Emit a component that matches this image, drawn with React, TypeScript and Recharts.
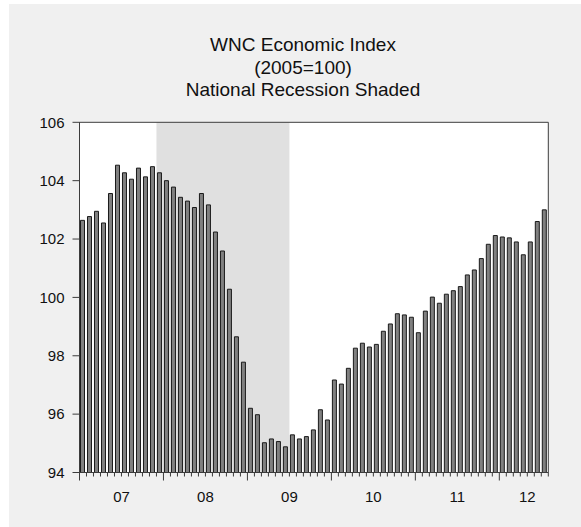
import React from 'react';
import { BarChart, Bar, XAxis, YAxis, CartesianGrid, ReferenceArea } from 'recharts';

const years = [2007, 2008, 2009, 2010, 2011, 2012];
const monthsInLastYear = 7;
const months: string[] = [];
years.forEach((y, yi) => {
  const n = yi === years.length - 1 ? monthsInLastYear : 12;
  for (let m = 1; m <= n; m++) months.push(`${y}-${String(m).padStart(2, '0')}`);
});

const wncIndex = [
  102.64, 102.77, 102.95, 102.55, 103.56, 104.53, 104.27, 104.05, 104.43, 104.13, 104.48, 104.27,
  104.0, 103.78, 103.43, 103.3, 103.08, 103.56, 103.17, 102.24, 101.59, 100.28, 98.65, 97.78,
  96.2, 95.98, 95.02, 95.15, 95.06, 94.88, 95.29, 95.15, 95.23, 95.46, 96.15, 95.8,
  97.17, 97.03, 97.57, 98.26, 98.43, 98.3, 98.39, 98.84, 99.09, 99.44, 99.4, 99.32,
  98.79, 99.53, 100.01, 99.8, 100.11, 100.23, 100.37, 100.77, 100.94, 101.33, 101.82, 102.12,
  102.07, 102.04, 101.9, 101.46, 101.9, 102.6, 103.0,
];

const yTicks = [94, 96, 98, 100, 102, 104, 106];
const yearLabels = [
  { at: '2007-07', label: '07' },
  { at: '2008-07', label: '08' },
  { at: '2009-07', label: '09' },
  { at: '2010-07', label: '10' },
  { at: '2011-07', label: '11' },
  { at: '2012-05', label: '12' },
];
const recessionStart = '2007-12';
const recessionEnd = '2009-06';
const titleLines = ['WNC Economic Index', '(2005=100)', 'National Recession Shaded'];

const data = months.map((m, i) => ({ month: m, value: wncIndex[i] }));

const FONT = '"Liberation Sans", Arial, sans-serif';
const FRAME = '#3c3c3c';

const MonthTick = (props: any) => {
  const { x, y, payload } = props;
  const half = typeof payload.offset === 'number' && payload.offset > 0 ? payload.offset : 3.5;
  const cat: string = payload.value;
  const left = x - half;
  const isJan = cat.endsWith('-01');
  const lbl = yearLabels.find((l) => l.at === cat);
  const last = cat === months[months.length - 1];
  return (
    <g>
      <line x1={left} x2={left} y1={y} y2={y + (isJan ? 8 : 4)} stroke={FRAME} strokeWidth={1} />
      {last && <line x1={x + half} x2={x + half} y1={y} y2={y + 4} stroke={FRAME} strokeWidth={1} />}
      {lbl && (
        <text x={left} y={y + 29} textAnchor="middle" fontSize={15} fontFamily={FONT} fill="#111">
          {lbl.label}
        </text>
      )}
    </g>
  );
};

export default function App() {
  return (
    <div
      style={{
        position: 'absolute',
        left: 9,
        top: 4,
        width: 572,
        height: 523,
        background: '#f0f0f0',
        overflow: 'hidden',
      }}
    >
      <div
        style={{
          position: 'absolute',
          left: 94,
          top: 30,
          width: 400,
          textAlign: 'center',
          fontFamily: FONT,
          fontSize: 19,
          lineHeight: '22.5px',
          color: '#111',
        }}
      >
        {titleLines.map((t) => (
          <div key={t}>{t}</div>
        ))}
      </div>
      <BarChart
        width={572}
        height={523}
        data={data}
        margin={{ top: 118.3, right: 32.7, bottom: 24.5, left: 10.5 }}
        barCategoryGap={0}
        style={{ position: 'absolute', left: 0, top: 0 }}
      >
        <CartesianGrid fill="#ffffff" horizontal={false} vertical={false} />
        <ReferenceArea
          x1={recessionStart}
          x2={recessionEnd}
          y1={94}
          y2={106}
          fill="#e0e0e0"
          fillOpacity={1}
          stroke="none"
        />
        <XAxis
          dataKey="month"
          type="category"
          interval={0}
          height={30}
          tickSize={0}
          tickMargin={0}
          tickLine={false}
          axisLine={{ stroke: FRAME }}
          tick={<MonthTick />}
        />
        <YAxis
          type="number"
          domain={[94, 106]}
          ticks={yTicks}
          width={60}
          tickSize={7}
          tickMargin={8}
          tickLine={{ stroke: FRAME }}
          axisLine={{ stroke: FRAME }}
          tick={{ fontSize: 15, fontFamily: FONT, fill: '#111' }}
          allowDataOverflow
        />
        <Bar
          dataKey="value"
          fill="#808080"
          stroke="#1a1a1a"
          strokeWidth={1}
          barSize={4}
          isAnimationActive={false}
        />
        <ReferenceArea
          x1={months[0]}
          x2={months[months.length - 1]}
          y1={94}
          y2={106}
          fill="none"
          stroke={FRAME}
          strokeWidth={1}
          zIndex={600}
        />
      </BarChart>
    </div>
  );
}
